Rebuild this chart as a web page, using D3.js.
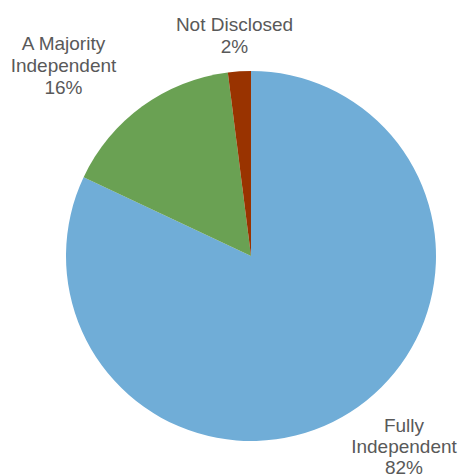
<!DOCTYPE html>
<html><head><meta charset="utf-8">
<script src="https://cdn.jsdelivr.net/npm/d3@7"></script>
<style>body{margin:0;background:#fff;}svg{display:block;}</style>
</head><body>
<script>
const categories = ["Fully Independent", "A Majority Independent", "Not Disclosed"];
const values = [82, 16, 2];
const labelLines = [["Fully", "Independent", "82%"], ["A Majority", "Independent", "16%"], ["Not Disclosed", "2%"]];
const colors = ["#70add7", "#6aa153", "#993300"];

const W = 459, H = 475;
const cx = 251, cy = 256, R = 185;
const svg = d3.select("body").append("svg").attr("width", W).attr("height", H);
const pie = d3.pie().sort(null).value(d => d)(values);
const arc = d3.arc().innerRadius(0).outerRadius(R);
const g = svg.append("g").attr("transform", `translate(${cx},${cy})`);
g.selectAll("path").data(pie).join("path")
  .attr("d", arc).attr("fill", (d, i) => colors[i]);

// label anchor positions (center x, first baseline y, line step)
const labelPos = [[404, 432, 21], [63.5, 49.5, 22.2], [234.5, 30.5, 22]];
labelLines.forEach((lines, i) => {
  const t = svg.append("text")
    .attr("text-anchor", "middle")
    .attr("font-family", "Liberation Sans, Arial, sans-serif")
    .attr("font-size", 19).attr("fill", "#595959");
  lines.forEach((l, j) => {
    t.append("tspan").attr("x", labelPos[i][0]).attr("y", labelPos[i][1] + j * labelPos[i][2]).text(l);
  });
});
</script>
</body></html>
